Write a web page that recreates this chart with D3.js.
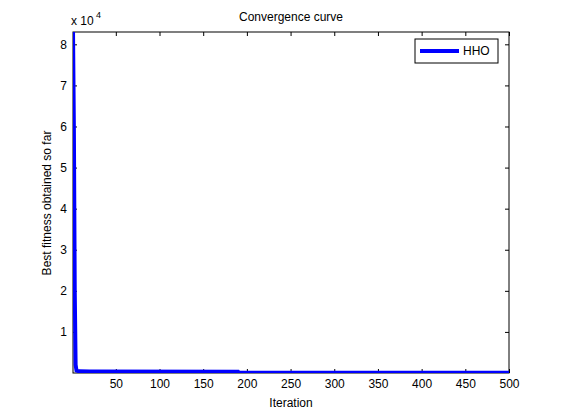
<!DOCTYPE html><html><head><script src="https://cdn.jsdelivr.net/npm/d3@7"></script>
<style>body{margin:0;background:#fff}text{font-family:Arial,"Liberation Sans",sans-serif}</style></head><body>
<svg id="c" width="561" height="420"></svg>
<script>
const iterations=[1,2,3,4,5,8,20,190,191,500];
const fitness=[83500,60000,20000,2000,600,400,350,300,60,40];
const xTicks=[50,100,150,200,250,300,350,400,450,500];
const yTicks=[10000,20000,30000,40000,50000,60000,70000,80000];
const svg=d3.select("#c");
const m={l:73,r:509,t:32,b:373};
svg.append("rect").attr("width",561).attr("height",420).attr("fill","#fff");
const x=d3.scaleLinear().domain([1,500]).range([m.l,m.r]);
const y=d3.scaleLinear().domain([0,83000]).range([m.b,m.t]);
svg.append("rect").attr("x",m.l).attr("y",m.t).attr("width",m.r-m.l).attr("height",m.b-m.t).attr("fill","#fff").attr("stroke","#000");
const ax=svg.append("g").attr("transform",`translate(0,${m.b})`).call(d3.axisBottom(x).tickValues(xTicks).tickSize(-4).tickPadding(6).tickFormat(d3.format("d")));
const ay=svg.append("g").attr("transform",`translate(${m.l},0)`).call(d3.axisLeft(y).tickValues(yTicks).tickSize(-4).tickPadding(6).tickFormat(d=>d/10000));
svg.append("g").attr("transform",`translate(0,${m.t})`).call(d3.axisTop(x).tickValues(xTicks).tickSize(-4).tickFormat(""));
svg.append("g").attr("transform",`translate(${m.r},0)`).call(d3.axisRight(y).tickValues(yTicks).tickSize(-4).tickFormat(""));
svg.selectAll(".domain").remove();
svg.selectAll(".tick text").attr("font-size",12).attr("fill","#000");
const clip=svg.append("clipPath").attr("id","cp").append("rect").attr("x",m.l).attr("y",m.t).attr("width",m.r-m.l).attr("height",m.b-m.t);
svg.append("path").datum(iterations.map((d,i)=>[d,fitness[i]])).attr("clip-path","url(#cp)")
 .attr("d",d3.line().x(d=>x(d[0])).y(d=>y(d[1]))).attr("fill","none").attr("stroke","#0000ff").attr("stroke-width",4);
svg.append("text").attr("x",291).attr("y",21).attr("text-anchor","middle").attr("font-size",12).text("Convergence curve");
svg.append("text").attr("x",291).attr("y",407).attr("text-anchor","middle").attr("font-size",12).text("Iteration");
svg.append("text").attr("transform","translate(51,203) rotate(-90)").attr("text-anchor","middle").attr("font-size",12).text("Best fitness obtained so far");
const e=svg.append("text").attr("x",71).attr("y",25).attr("font-size",12).text("x 10");
svg.append("text").attr("x",96).attr("y",18).attr("font-size",9).text("4");
svg.append("rect").attr("x",415).attr("y",39).attr("width",83).attr("height",24).attr("fill","#fff").attr("stroke","#000");
svg.append("line").attr("x1",420).attr("x2",459).attr("y1",51).attr("y2",51).attr("stroke","#0000ff").attr("stroke-width",4);
svg.append("text").attr("x",463).attr("y",55).attr("font-size",12).text("HHO");
</script></body></html>
